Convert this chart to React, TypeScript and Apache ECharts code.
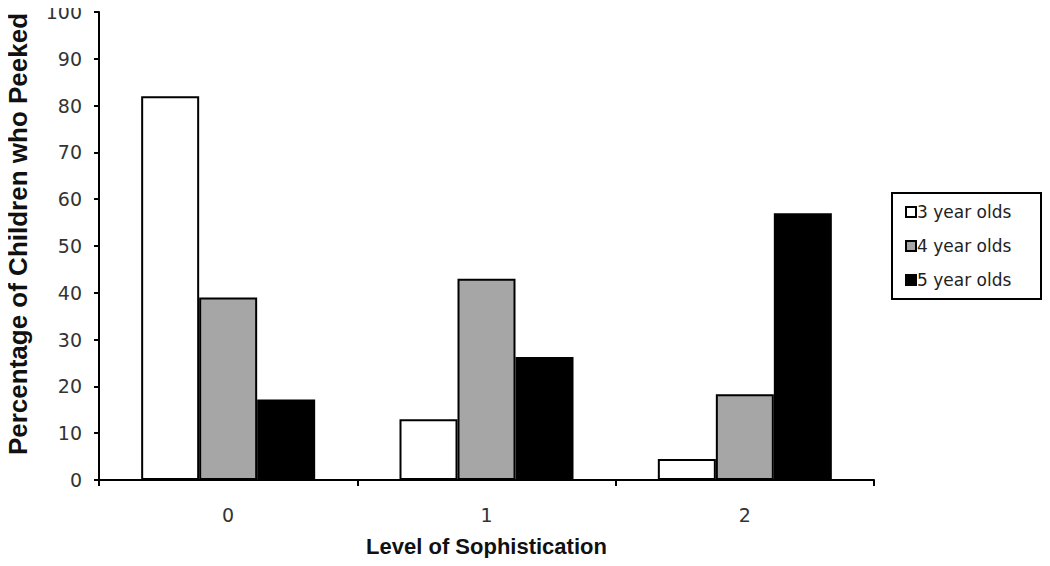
import React, { useEffect, useRef } from "react";
import * as echarts from "echarts";

const categories = ["0", "1", "2"];
const seriesNames = ["3 year olds", "4 year olds", "5 year olds"];
const threeYearOlds = [82, 13, 4.5];
const fourYearOlds = [39, 43, 18.3];
const fiveYearOlds = [17.2, 26.3, 57];
const colors = ["#ffffff", "#a6a6a6", "#000000"];

export default function App() {
  const ref = useRef<HTMLDivElement>(null);
  useEffect(() => {
    if (!ref.current) return;
    const chart = echarts.init(ref.current, null, { renderer: "svg" });
    const font = "'Liberation Sans', Arial, sans-serif";
    const wide = "'DejaVu Sans', 'Liberation Sans', sans-serif";
    const values = [threeYearOlds, fourYearOlds, fiveYearOlds];
    chart.setOption({
      animation: false,
      backgroundColor: "#ffffff",
      textStyle: { fontFamily: font },
      grid: {
        left: 99,
        right: 176,
        top: 12,
        bottom: 86,
        containLabel: false,
        outerBoundsMode: "none",
      },
      legend: {
        orient: "vertical",
        left: 892,
        top: 193,
        borderColor: "#000",
        borderWidth: 2,
        padding: [10, 10, 10, 13],
        itemGap: 16,
        itemWidth: 10,
        itemHeight: 10,
        icon: "rect",
        textStyle: {
          fontFamily: wide,
          fontSize: 17,
          lineHeight: 18,
          color: "#222",
          width: 114,
          padding: [0, 0, 0, -4],
        },
        data: seriesNames,
      },
      xAxis: {
        type: "category",
        data: categories,
        name: "Level of Sophistication",
        nameLocation: "middle",
        nameGap: 55,
        nameTextStyle: { fontFamily: font, fontSize: 22, fontWeight: "bold", color: "#111" },
        axisLine: { lineStyle: { color: "#000", width: 2 } },
        axisTick: { show: true, length: 6, lineStyle: { color: "#000", width: 2 } },
        axisLabel: { fontFamily: wide, fontSize: 19, color: "#333", margin: 25 },
      },
      yAxis: {
        type: "value",
        min: 0,
        max: 100,
        interval: 10,
        name: "Percentage of Children who Peeked",
        nameLocation: "middle",
        nameGap: 68,
        nameTextStyle: {
          fontFamily: font,
          fontSize: 26,
          fontWeight: "bold",
          color: "#111",
          padding: [0, 0, 0, 24],
        },
        axisLine: { show: true, lineStyle: { color: "#000", width: 2 } },
        axisTick: { show: true, length: 5, lineStyle: { color: "#000", width: 2 } },
        axisLabel: { fontFamily: wide, fontSize: 19, color: "#333", margin: 17 },
        splitLine: { show: false },
      },
      series: seriesNames.map((name, i) => ({
        name,
        type: "bar",
        data: values[i],
        barWidth: 58,
        barGap: "0%",
        itemStyle: { color: colors[i], borderColor: "#000", borderWidth: 2 },
      })),
    });
    return () => chart.dispose();
  }, []);
  return <div ref={ref} style={{ width: 1050, height: 566, margin: -8 }} />;
}
